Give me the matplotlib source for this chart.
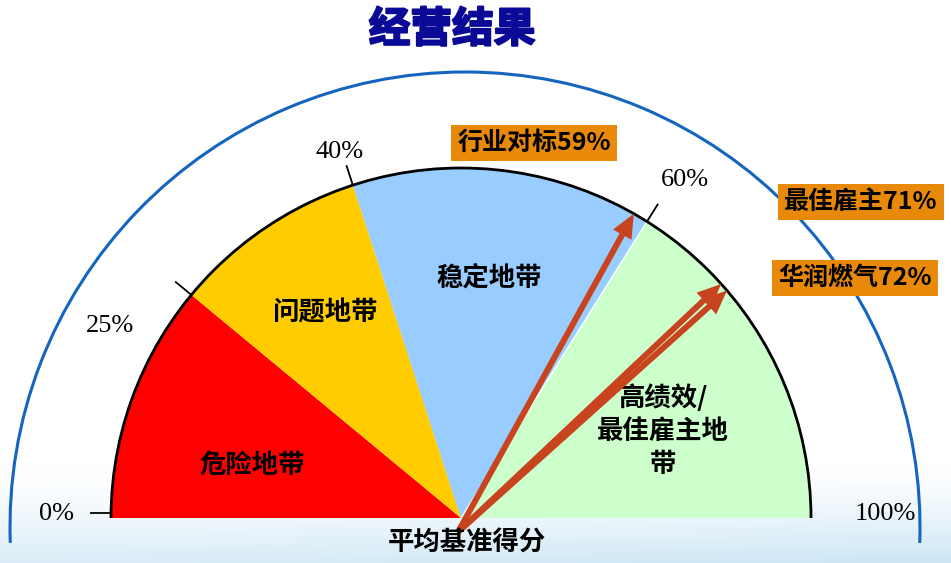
import matplotlib.pyplot as plt
import numpy as np
from matplotlib.patches import Wedge, Arc, FancyArrow
from matplotlib import patheffects as pe

# dados do grafico
zonas = ['危险地带', '问题地带', '稳定地带', '高绩效/\n最佳雇主地\n带']
limites = [0, 25, 40, 60, 100]
rotulos = ['0%', '25%', '40%', '60%', '100%']
marcadores = ['行业对标', '最佳雇主', '华润燃气']
notas = [59, 71, 72]
titulo = '经营结果'
base = '平均基准得分'

# layout (em pixels da imagem)
W, H = 951, 563
cores = ['#FF0000', '#FFCC00', '#99CCFF', '#CCFFCC']
angulos = [180, 140.4, 108, 57.9, 0]     # angulo desenhado de cada limite
cx, cy, R = 461, 518, 350
pos_zonas = [(252, 465), (325, 313), (489, 278), (663, 431)]
pos_rotulos = [(57, 514), (110, 326), (340, 152), (685, 180), (885, 514)]
pos_caixas = [(534, 143), (861, 202), (855, 278)]
cjk = ['Noto Sans CJK SC', 'DejaVu Sans']


def P(x, y):
    return x, H - y


def ang(v):
    return np.interp(v, limites, angulos)


fig = plt.figure(figsize=(W / 100, H / 100), dpi=100)
ax = fig.add_axes([0, 0, 1, 1])
ax.set_xlim(0, W)
ax.set_ylim(0, H)
ax.axis('off')

# fundo azul claro embaixo
yy = np.linspace(0, 1, 100)[:, None]
xx = np.linspace(0, 1, 200)[None, :]
t = np.clip(yy ** 1.4, 0, 1) * (0.7 + 0.3 * xx)
topo = np.array([1.0, 1.0, 1.0])
fundo = np.array([0.80, 0.90, 0.96])
img = topo + (fundo - topo) * t[..., None]
ax.imshow(img, extent=[0, W, 0, 100], origin='upper', aspect='auto', zorder=0)

# arco azul externo
ax.add_patch(Arc(P(465, 527), 910, 910, theta1=-2, theta2=182,
                 color='#1565C0', lw=2.2, zorder=1))

# setores
c = P(cx, cy)
for i in range(len(zonas)):
    a1, a2 = ang(limites[i + 1]), ang(limites[i])
    ax.add_patch(Wedge(c, R, a1, a2, fc=cores[i], ec='none', zorder=2))
a = np.radians(ang(60))
ax.plot([c[0], c[0] + R * np.cos(a)], [c[1], c[1] + R * np.sin(a)],
        color='white', lw=1, zorder=3)
ax.add_patch(Arc(c, 2 * R, 2 * R, theta1=0, theta2=180, color='black', lw=2, zorder=4))

# marcas da escala
for v in limites[:-1]:
    a = np.radians(ang(v))
    r1, r2 = R + 2, R + 20
    dy = 5 if v == 0 else 0
    ax.plot([c[0] + r1 * np.cos(a), c[0] + r2 * np.cos(a)],
            [c[1] + r1 * np.sin(a) + dy, c[1] + r2 * np.sin(a) + dy],
            color='black', lw=1.3, zorder=4)

for txt, (x, y) in zip(rotulos, pos_rotulos):
    ax.text(*P(x, y), txt, fontsize=19, family='Liberation Serif',
            ha='center', va='center', zorder=5)

for txt, (x, y) in zip(zonas, pos_zonas):
    ax.text(*P(x, y), txt, fontsize=19, family=cjk, fontweight='bold',
            ha='center', va='center', linespacing=1.3, zorder=5)

# setas
x0, y0 = P(458, 532)
for v in notas:
    a = np.radians(ang(v))
    xt, yt = c[0] + R * np.cos(a), c[1] + R * np.sin(a)
    ax.add_patch(FancyArrow(x0, y0, xt - x0, yt - y0, width=6, head_width=21,
                            head_length=24, length_includes_head=True,
                            fc='#C8441E', ec='none', zorder=6))

for nome, v, (x, y) in zip(marcadores, notas, pos_caixas):
    ax.text(*P(x, y), f'{nome}{v}%', fontsize=18, family=cjk, fontweight='bold',
            ha='center', va='center', zorder=7,
            bbox=dict(boxstyle='square,pad=0.25', fc='#E8890A', ec='none'))

ax.text(*P(467, 543), base, fontsize=19, family=cjk, fontweight='bold',
        ha='center', va='center', zorder=7)

tt = ax.text(*P(452, 30), titulo, fontsize=30, family=cjk, fontweight='heavy',
             color='#0A0A96', ha='center', va='center', zorder=7)
tt.set_path_effects([pe.withStroke(linewidth=1.5, foreground='#0A0A96')])

fig.savefig('out.png', dpi=100)
